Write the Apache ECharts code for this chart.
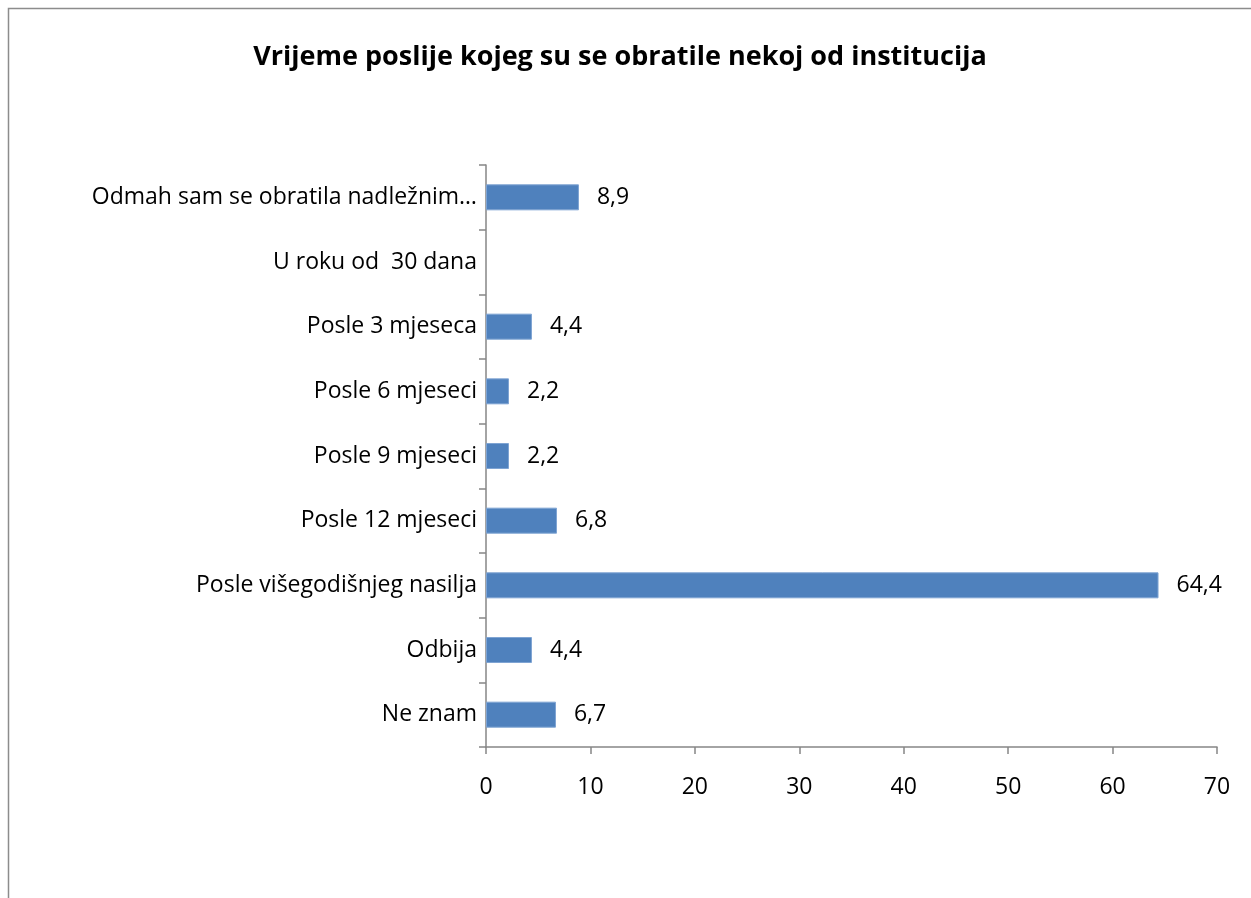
<!DOCTYPE html>
<html>
<head>
<meta charset="utf-8">
<script src="https://cdn.jsdelivr.net/npm/echarts@6/dist/echarts.min.js"></script>
<style>
  html, body { margin: 0; padding: 0; background: #fff; }
  #chart { width: 1251px; height: 898px; }
</style>
</head>
<body>
<div id="chart"></div>
<script>
const categories = [
    'Odmah sam se obratila nadležnim…',
    'U roku od  30 dana',
    'Posle 3 mjeseca',
    'Posle 6 mjeseci',
    'Posle 9 mjeseci',
    'Posle 12 mjeseci',
    'Posle višegodišnjeg nasilja',
    'Odbija',
    'Ne znam'
];
const values = [8.9, null, 4.4, 2.2, 2.2, 6.8, 64.4, 4.4, 6.7];
const xTicks = [0, 10, 20, 30, 40, 50, 60, 70];

const font = 'Open Sans';
const chart = echarts.init(document.getElementById('chart'));

chart.setOption({
    animation: false,
    title: {
        text: 'Vrijeme poslije kojeg su se obratile nekoj od institucija',
        left: 615,
        textAlign: 'center',
        top: 39,
        textStyle: { fontFamily: font, fontSize: 27, fontWeight: 'bold', color: '#000' }
    },
    graphic: [{
        type: 'rect',
        shape: { x: 8.5, y: 8.5, width: 1400, height: 1000 },
        style: { fill: 'none', stroke: '#8c8c8c', lineWidth: 1.5 },
        silent: true
    }],
    grid: { left: 486, right: 34, top: 165, bottom: 151, containLabel: false },
    xAxis: {
        type: 'value',
        min: xTicks[0],
        max: xTicks[xTicks.length - 1],
        interval: 10,
        splitLine: { show: false },
        axisLine: { show: true, lineStyle: { color: '#868686', width: 1.5 } },
        axisTick: { show: true, length: 7, lineStyle: { color: '#868686', width: 1.5 } },
        axisLabel: { margin: 29, fontFamily: font, fontSize: 23, color: '#000' }
    },
    yAxis: {
        type: 'category',
        data: categories,
        inverse: true,
        axisLine: { show: true, lineStyle: { color: '#868686', width: 1.5 } },
        axisTick: { show: true, length: 7, lineStyle: { color: '#868686', width: 1.5 } },
        axisLabel: { margin: 9, fontFamily: font, fontSize: 23, color: '#000' }
    },
    series: [{
        type: 'bar',
        data: values,
        barWidth: 26,
        itemStyle: { color: '#4f81bd', borderColor: '#7fa4d3', borderWidth: 1 },
        label: {
            show: true,
            position: 'right',
            distance: 18,
            fontFamily: font,
            fontSize: 23,
            color: '#000',
            formatter: p => String(p.value).replace('.', ',')
        }
    }]
});
</script>
</body>
</html>
